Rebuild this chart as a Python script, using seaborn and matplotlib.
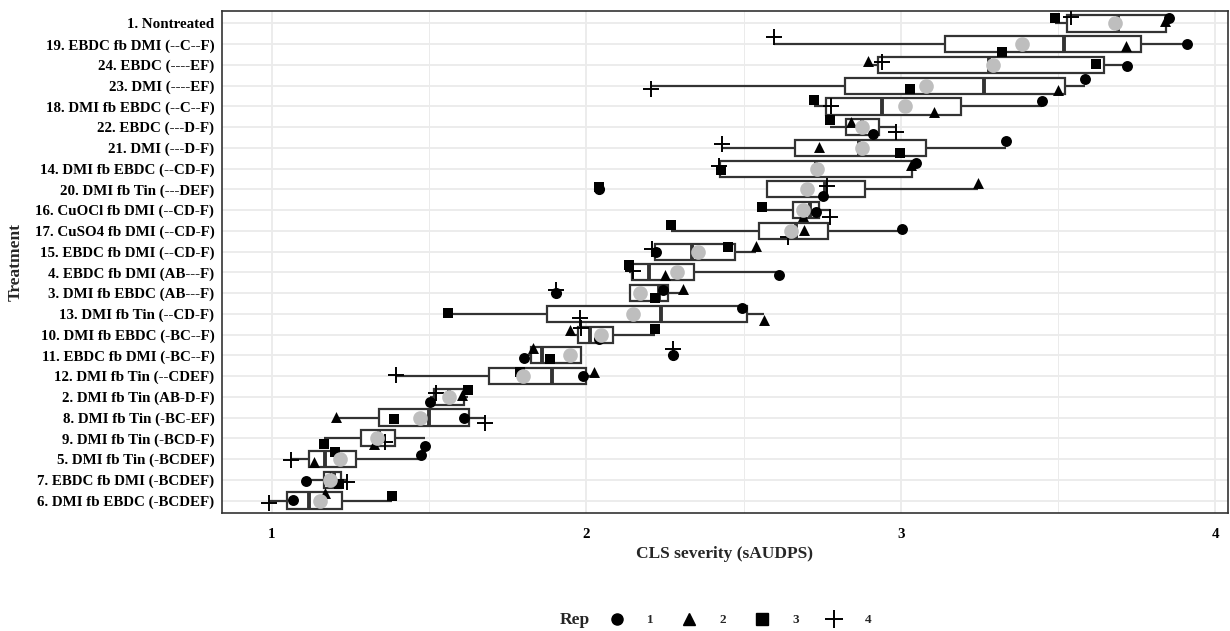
import numpy as np
import pandas as pd
import matplotlib
matplotlib.use("Agg")
import matplotlib.pyplot as plt
from matplotlib.lines import Line2D
import seaborn as sns

# treatments, top to bottom
treatments = [
    "1. Nontreated", "19. EBDC fb DMI (--C--F)", "24. EBDC (----EF)",
    "23. DMI (----EF)", "18. DMI fb EBDC (--C--F)", "22. EBDC (---D-F)",
    "21. DMI (---D-F)", "14. DMI fb EBDC (--CD-F)", "20. DMI fb Tin (---DEF)",
    "16. CuOCl fb DMI (--CD-F)", "17. CuSO4 fb DMI (--CD-F)", "15. EBDC fb DMI (--CD-F)",
    "4. EBDC fb DMI (AB---F)", "3. DMI fb EBDC (AB---F)", "13. DMI fb Tin (--CD-F)",
    "10. DMI fb EBDC (-BC--F)", "11. EBDC fb DMI (-BC--F)", "12. DMI fb Tin (--CDEF)",
    "2. DMI fb Tin (AB-D-F)", "8. DMI fb Tin (-BC-EF)", "9. DMI fb Tin (-BCD-F)",
    "5. DMI fb Tin (-BCDEF)", "7. EBDC fb DMI (-BCDEF)", "6. DMI fb EBDC (-BCDEF)",
]

# sAUDPS per replicate, same order as treatments
rep1 = [3.852, 3.909, 3.718, 3.587, 3.448, 2.912, 3.333, 3.048, 2.751, 2.730, 3.004, 2.223,
        2.612, 2.245, 2.494, 2.040, 1.803, 1.991, 1.503, 1.611, 1.486, 1.474, 1.109, 1.068]
rep2 = [3.839, 3.716, 2.895, 3.499, 3.106, 2.841, 2.740, 3.033, 3.246, 2.690, 2.691, 2.538,
        2.251, 2.309, 2.564, 1.949, 1.830, 2.024, 1.605, 1.203, 1.325, 1.136, 1.184, 1.171]
rep3 = [3.489, 3.323, 3.620, 3.029, 2.723, 2.774, 2.997, 2.427, 2.040, 2.560, 2.270, 2.449,
        2.136, 2.219, 1.559, 2.219, 1.886, 1.789, 1.624, 1.388, 1.165, 1.200, 1.213, 1.384]
rep4 = [3.540, 2.598, 2.940, 2.207, 2.777, 2.985, 2.432, 2.423, 2.765, 2.774, 2.640, 2.210,
        2.150, 1.905, 1.981, 1.984, 2.277, 1.394, 1.521, 1.678, 1.359, 1.061, 1.240, 0.990]

reps = ["1", "2", "3", "4"]
rep_markers = {"1": "o", "2": "^", "3": "s", "4": "+"}
rep_sizes = {"1": 62, "2": 62, "3": 52, "4": 140}

df = pd.DataFrame({
    "Treatment": treatments * 4,
    "Rep": np.repeat(reps, len(treatments)),
    "sAUDPS": rep1 + rep2 + rep3 + rep4,
})

# vertical jitter like geom_jitter
rng = np.random.default_rng(11)
row_pos = {t: i for i, t in enumerate(treatments)}
df["ypos"] = df["Treatment"].map(row_pos) + rng.uniform(-0.36, 0.36, len(df))

sns.set_style("white")
plt.rcParams["font.family"] = ["Liberation Serif", "DejaVu Serif"]
plt.rcParams["font.weight"] = "bold"

fig = plt.figure(figsize=(12.3, 6.31), dpi=100)
ax = fig.add_axes([222 / 1230, 1 - 513 / 631, 1006 / 1230, 502 / 631])

edge = "#333333"
sns.boxplot(data=df, x="sAUDPS", y="Treatment", order=treatments, ax=ax,
            color="white", linecolor=edge, linewidth=1.6, width=0.78,
            whis=1.5, showcaps=False, fliersize=7,
            flierprops=dict(marker="o", markerfacecolor="black", markeredgecolor="black"),
            medianprops=dict(linewidth=2.8, color=edge), zorder=2)

for r in reps:
    sub = df[df["Rep"] == r]
    if rep_markers[r] == "+":
        sns.scatterplot(data=sub, x="sAUDPS", y="ypos", ax=ax, marker="+",
                        color="black", s=rep_sizes[r], linewidth=1.4, zorder=3,
                        legend=False)
    else:
        sns.scatterplot(data=sub, x="sAUDPS", y="ypos", ax=ax, marker=rep_markers[r],
                        color="black", s=rep_sizes[r], linewidth=0, zorder=3,
                        legend=False)

# treatment means
sns.pointplot(data=df, x="sAUDPS", y="Treatment", order=treatments, ax=ax,
              estimator="mean", errorbar=None, linestyle="none", color="#bebebe",
              markers="o", markersize=8.5, zorder=4)

ax.set_xlim(0.842, 4.04)
ax.set_ylim(len(treatments) - 0.4, -0.6)
ax.set_yticks(range(len(treatments)))
ax.set_yticklabels(treatments)
ax.set_xticks([1, 2, 3, 4])
ax.set_xticks([1.5, 2.5, 3.5], minor=True)
ax.grid(True, which="major", color="#ebebeb", linewidth=1.3, zorder=0)
ax.grid(True, which="minor", axis="x", color="#ebebeb", linewidth=0.7, zorder=0)
ax.set_axisbelow(True)
for s in ax.spines.values():
    s.set_color(edge)
    s.set_linewidth(1.2)
ax.tick_params(axis="both", which="major", length=3.5, width=1.1, color=edge,
               labelsize=10.8, labelcolor="black", pad=2)
ax.tick_params(axis="x", which="major", pad=7)
ax.tick_params(axis="x", which="minor", length=0)
for lab in ax.get_xticklabels() + ax.get_yticklabels():
    lab.set_fontweight("bold")
ax.set_xlabel("CLS severity (sAUDPS)", fontsize=12.5, fontweight="bold", labelpad=4)
ax.set_ylabel("Treatment", fontsize=12.5, fontweight="bold", labelpad=8)
if ax.get_legend() is not None:
    ax.get_legend().remove()

# legend at the bottom
handles = []
for r in reps:
    m = rep_markers[r]
    if m == "+":
        handles.append(Line2D([], [], linestyle="none", marker="+", color="black",
                              markersize=13, markeredgewidth=1.4))
    else:
        handles.append(Line2D([], [], linestyle="none", marker=m, color="black",
                              markersize=8))
fig.text(575 / 1230, 1 - 620 / 631, "Rep", ha="center", va="center",
         fontsize=12.5, fontweight="bold")
fig.legend(handles, reps, loc="center", bbox_to_anchor=(740 / 1230, 1 - 620 / 631),
           ncol=4, frameon=False, handlelength=1.2,
           handletextpad=1.7, columnspacing=2.1, prop={"weight": "bold", "size": 9.5})

fig.savefig("out.png", dpi=100)
